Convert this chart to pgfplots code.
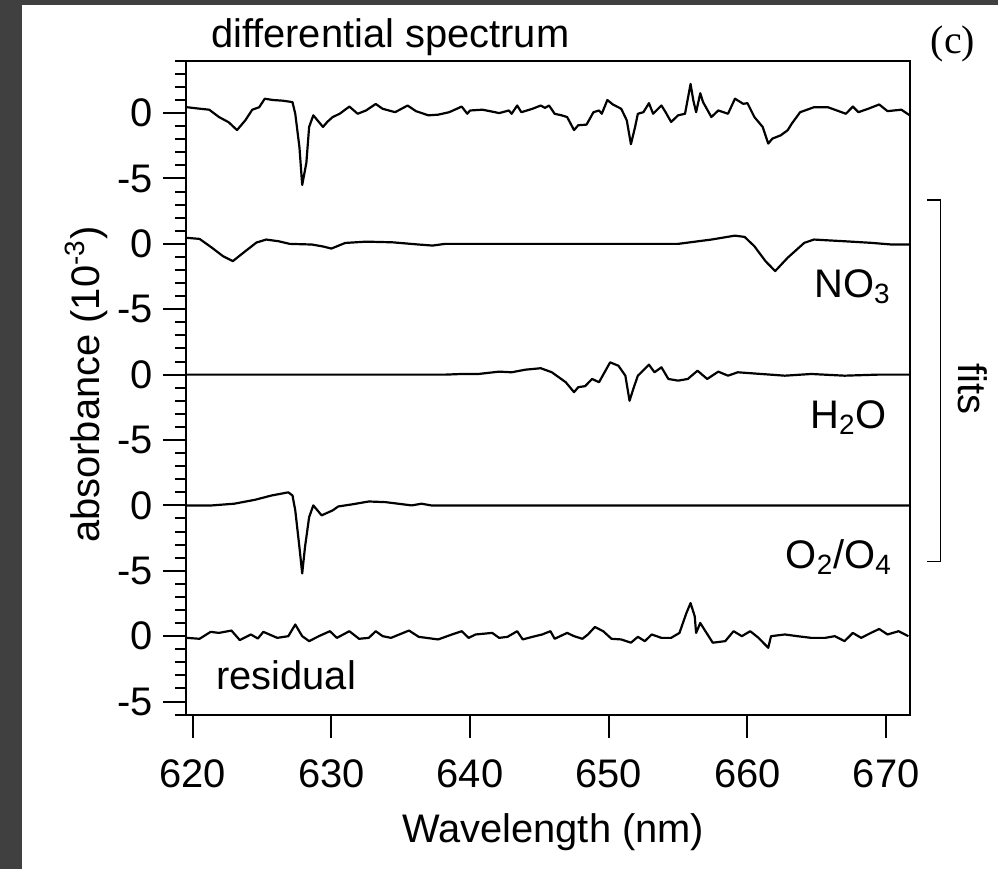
\documentclass[border=0pt]{standalone}
\usepackage{pgfplots}
\usepackage{pgfplotstable}
\pgfplotsset{compat=1.18}
\usepackage{fontspec}
\setmainfont{Liberation Sans}
\newfontfamily\seriffont{Liberation Serif}
\definecolor{frame}{RGB}{64,64,64}

\pgfplotstableread{
x y
619.6 0.45
620.4 0.35
621.2 0.26
621.9 -0.3
622.6 -0.7
623.2 -1.3
623.8 -0.55
624.3 0.26
624.8 0.45
625.2 1.1
625.8 1.0
626.5 0.95
627.2 0.84
627.4 -0.05
627.7 -2.6
627.9 -5.5
628.2 -3.8
628.4 -1.06
628.7 -0.17
629.0 -0.55
629.4 -1.06
629.7 -0.68
630.1 -0.3
630.6 -0.05
631.3 0.5
631.9 -0.05
632.5 0.2
633.2 0.7
633.7 0.33
634.6 0.07
635.5 0.58
636.1 0.15
637.0 -0.17
637.7 -0.12
638.5 0.07
639.4 0.5
639.8 -0.05
640.0 0.2
640.9 0.26
641.8 0.07
642.1 0.0
642.8 0.2
643.0 -0.05
643.4 0.58
643.7 0.07
644.5 0.33
645.1 0.58
645.4 0.4
645.7 0.58
646.1 -0.05
646.6 -0.17
647.0 -0.3
647.5 -1.3
647.8 -0.93
648.4 -0.88
648.9 0.07
649.3 0.2
649.5 -0.05
649.9 1.0
650.3 0.66
650.9 0.33
651.3 -0.55
651.6 -2.38
651.9 -1.06
652.1 -0.05
652.5 0.07
652.9 0.76
653.2 -0.05
653.8 0.58
654.1 0.07
654.5 -0.68
655.0 -0.17
655.5 -0.05
655.9 2.23
656.1 0.96
656.3 0.07
656.6 1.52
656.8 0.84
657.4 -0.3
657.9 0.2
658.6 -0.05
659.1 1.1
659.7 0.71
660.0 0.76
660.5 -0.3
661.1 -1.06
661.5 -2.33
661.8 -1.95
662.4 -1.7
662.9 -1.31
663.2 -0.8
663.8 0.07
664.8 0.45
665.8 0.45
667.1 -0.05
667.6 0.5
668.0 0.07
668.7 0.33
669.5 0.66
670.1 0.15
671.1 0.26
671.7 -0.17
}\diffspec

\pgfplotstableread{
x y
619.6 0.46
620.5 0.38
621.4 -0.3
622.2 -0.95
622.9 -1.32
623.8 -0.56
624.6 0.1
625.3 0.33
626.2 0.2
627.0 0.0
628.6 -0.05
629.4 -0.2
630.0 -0.36
631.0 0.07
632.5 0.17
634.4 0.12
636.3 -0.05
637.3 -0.13
638.2 0.0
645.0 0.0
655.0 0.0
657.4 0.33
659.1 0.63
659.8 0.53
660.5 -0.18
661.3 -1.32
662.0 -2.08
662.9 -1.06
664.1 0.08
664.8 0.33
667.0 0.2
668.9 0.08
670.4 -0.05
671.7 -0.05
}\nothree

\pgfplotstableread{
x y
619.6 0.0
638.2 0.0
639.4 0.05
640.6 0.05
642.1 0.23
643.0 0.18
644.0 0.38
645.1 0.49
645.9 0.18
646.9 -0.58
647.5 -1.34
647.8 -0.96
648.3 -0.88
648.8 -0.33
649.3 -0.58
650.1 0.94
650.7 0.68
651.2 -0.08
651.5 -2.0
651.8 -1.0
652.1 -0.08
652.9 0.76
653.3 0.18
653.8 0.56
654.3 -0.33
655.0 -0.46
655.7 -0.33
656.4 0.3
657.1 -0.33
657.9 0.23
658.6 -0.08
659.3 0.18
661.0 0.05
662.7 -0.08
664.6 0.05
667.0 -0.08
669.4 0.0
671.7 0.0
}\water

\pgfplotstableread{
x y
619.6 0.0
621.4 0.0
623.0 0.13
624.5 0.43
625.7 0.76
626.9 1.0
627.2 0.76
627.4 -0.38
627.7 -3.2
627.9 -5.2
628.1 -3.2
628.4 -0.9
628.7 0.0
629.0 -0.38
629.3 -0.76
630.1 -0.38
630.5 -0.08
631.5 0.08
632.7 0.3
633.9 0.25
635.8 0.0
636.5 0.13
637.2 0.0
638.2 0.0
671.7 0.0
}\oxygen

\pgfplotstableread{
x y
619.6 -0.13
620.5 -0.2
621.3 0.33
621.9 0.25
622.8 0.43
623.4 -0.3
624.2 0.13
624.7 -0.18
625.1 0.33
626.1 -0.13
626.9 0.0
627.4 0.89
627.9 0.0
628.4 -0.38
629.1 0.0
629.9 0.38
630.4 -0.13
631.3 0.38
632.0 -0.2
632.7 -0.13
633.2 0.38
633.7 0.0
634.3 -0.13
635.6 0.43
636.3 -0.05
637.7 -0.25
638.7 0.13
639.4 0.38
639.9 -0.13
640.4 0.13
641.6 0.25
642.1 -0.13
642.7 -0.05
643.4 0.38
643.8 -0.25
644.5 -0.05
645.2 0.13
645.8 0.38
646.1 -0.2
647.0 0.25
647.5 0.0
648.1 -0.2
648.5 0.13
649.0 0.7
649.6 0.38
650.2 -0.2
650.9 -0.25
651.6 -0.5
652.1 -0.05
652.6 -0.38
653.1 0.13
653.8 -0.13
654.5 -0.13
655.1 0.25
655.6 1.77
655.9 2.53
656.2 1.52
656.3 0.25
656.6 1.01
656.9 0.5
657.5 -0.5
658.4 -0.38
659.0 0.38
659.6 0.0
660.2 0.38
660.8 -0.13
661.5 -0.89
661.7 0.0
662.7 0.13
663.6 0.0
664.6 -0.13
665.6 -0.13
666.3 0.0
667.0 -0.38
667.6 0.25
668.2 -0.13
668.9 0.25
669.5 0.55
670.1 0.13
670.9 0.38
671.6 0.0
}\residual

\begin{document}
\fontsize{20}{24}\selectfont
\begin{tikzpicture}
\fill[frame] (0,0) rectangle (500.5pt,436pt);
\fill[white] (11pt,0) rectangle (500.5pt,433.5pt);
\begin{axis}[
  at={(93.5pt,77.5pt)}, anchor=south west,
  width=363pt, height=328pt, scale only axis,
  xmin=619.55, xmax=671.72, ymin=-6, ymax=44,
  axis line style={line width=1pt},
  tick pos=left, tick align=outside,
  major tick length=11.5pt, minor tick length=5.5pt,
  every tick/.style={black, line width=1pt},
  xtick={620,630,...,670},
  ytick={-5,0,5,10,15,20,25,30,35,40},
  yticklabels={-5,0,-5,0,-5,0,-5,0,-5,0},
  minor ytick={-4,-3,-2,-1,1,2,3,4,6,7,8,9,11,12,13,14,16,17,18,19,21,22,23,24,26,27,28,29,31,32,33,34,36,37,38,39,41,42,43},
  /pgf/number format/assume math mode=true,
  /pgf/number format/1000 sep={},
  tick label style={font=\fontsize{20}{24}\selectfont},
  yticklabel style={inner sep=0pt, xshift=-5pt},
  xticklabel style={inner sep=0pt, yshift=-11pt},
]
\addplot[black, no markers, line width=1.1pt, line join=round] table[x=x, y expr=\thisrow{y}+40] {\diffspec};
\addplot[black, no markers, line width=1.1pt, line join=round] table[x=x, y expr=\thisrow{y}+30] {\nothree};
\addplot[black, no markers, line width=1.1pt, line join=round] table[x=x, y expr=\thisrow{y}+20] {\water};
\addplot[black, no markers, line width=1.1pt, line join=round] table[x=x, y expr=\thisrow{y}+10] {\oxygen};
\addplot[black, no markers, line width=1.1pt, line join=round] table[x=x, y=y] {\residual};
\end{axis}
% frame extensions (Igor style)
\draw[line width=1pt] (88pt,405.5pt) -- (93.5pt,405.5pt);
\draw[line width=1pt] (88pt,77.5pt) -- (93.5pt,77.5pt);
% titles and labels
\node[anchor=base] at (195.75pt,412pt) {differential spectrum};
\node[anchor=base, font=\seriffont\fontsize{20}{24}\selectfont] at (478pt,409.25pt) {(c)};
\node[anchor=base] at (277.5pt,13.5pt) {Wavelength (nm)};
\node[anchor=base, rotate=90] at (50pt,243pt) {absorbance (10\textsuperscript{-3})};
\node[anchor=base west, inner sep=0pt] at (408.35pt,286.85pt) {NO\textsubscript{3}};
\node[anchor=base west, inner sep=0pt] at (406.35pt,221pt) {H\textsubscript{2}O};
\node[anchor=base west, inner sep=0pt] at (394pt,150.75pt) {O\textsubscript{2}/O\textsubscript{4}};
\node[anchor=base west, inner sep=0pt] at (108.35pt,90.15pt) {residual};
% fits bracket
\draw[line width=0.7pt] (465pt,335.65pt) -- (471.65pt,335.65pt) -- (471.65pt,154.35pt) -- (465pt,154.35pt);
\node[anchor=base, rotate=-90] at (481pt,241pt) {fits};
\end{tikzpicture}
\end{document}
